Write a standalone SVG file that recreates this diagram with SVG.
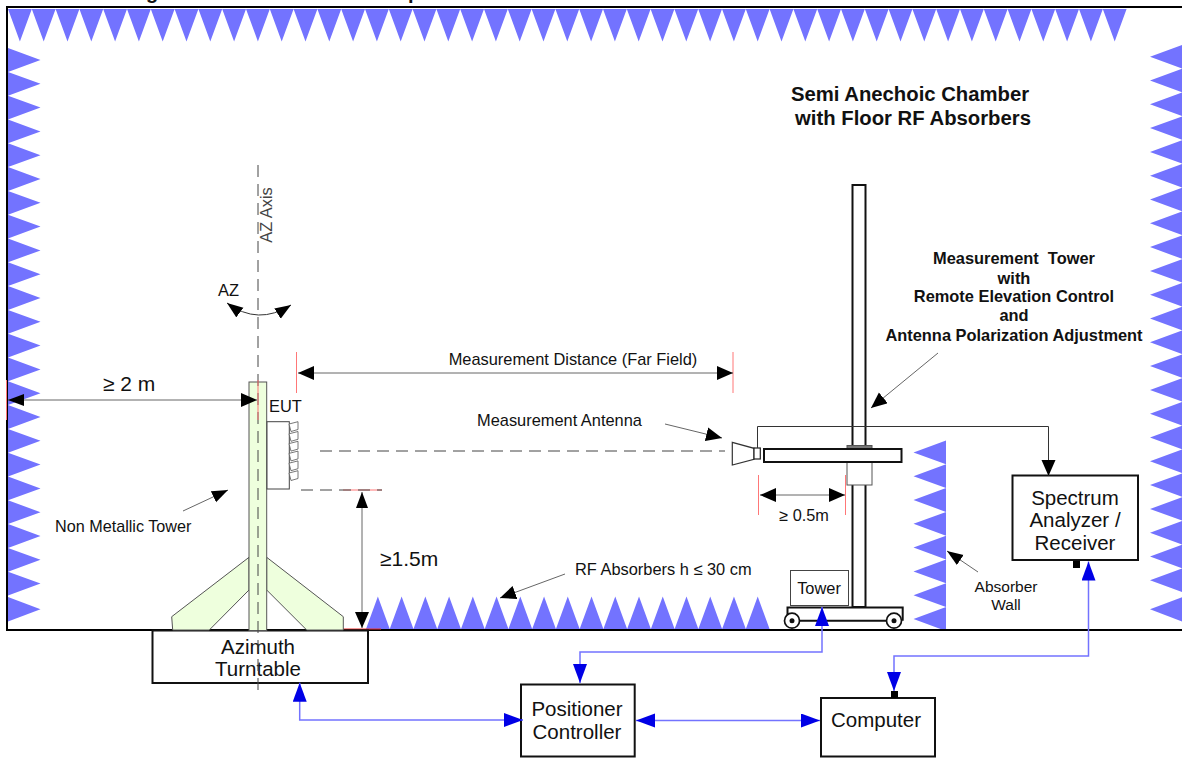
<svg xmlns="http://www.w3.org/2000/svg" width="1182" height="765" viewBox="0 0 1182 765">
<style>
text{font-family:"Liberation Sans",Arial,sans-serif;fill:#111}
.abs{fill:#7373ff;stroke:none}
.box{fill:#fff;stroke:#111;stroke-width:2}
.tw{fill:#eeffdd;stroke:#555;stroke-width:1}
.red{fill:none;stroke:#f77;stroke-width:1}
.dash{fill:none;stroke:#444;stroke-width:1;stroke-dasharray:12 7}
.ln{fill:none;stroke:#666;stroke-width:1}
.bl{fill:none;stroke:#7373ff;stroke-width:1.5}
.lbl{font-size:16.4px}
.big{font-size:20.5px;text-anchor:middle}
.bold{font-weight:bold;text-anchor:middle}
.t1{font-size:20.3px}
.t2{font-size:16.4px}
</style>
<defs>
<marker id="k" markerUnits="userSpaceOnUse" markerWidth="17" markerHeight="15" refX="16" refY="7" orient="auto-start-reverse"><path d="M0 0L16 7L0 14z" fill="#000"/></marker>
<marker id="s" markerUnits="userSpaceOnUse" markerWidth="17" markerHeight="13" refX="16" refY="6" orient="auto-start-reverse"><path d="M0 0L16 6L0 12z" fill="#000"/></marker>
<marker id="b" markerUnits="userSpaceOnUse" markerWidth="20" markerHeight="15" refX="19" refY="7" orient="auto-start-reverse"><path d="M0 0L19 7L0 14z" fill="#0000e6"/></marker>
<polygon id="tile" points="289,424 298,421.7 298,429.5 291,431.5" fill="#fff" stroke="#555" stroke-width="0.8"/>
<path id="d5" class="abs" d="M0 0l11.9 32.5 11.9-32.5 11.9 32.5 11.9-32.5 11.9 32.5 11.9-32.5 11.9 32.5 11.9-32.5 11.9 32.5 11.9-32.5z"/>
<path id="u5" class="abs" d="M0 0l11.87-32.5 11.87 32.5 11.87-32.5 11.87 32.5 11.87-32.5 11.87 32.5 11.87-32.5 11.87 32.5 11.87-32.5 11.87 32.5z"/>
<path id="r5" class="abs" d="M0 0l32.5 11.9-32.5 11.9 32.5 11.9-32.5 11.9 32.5 11.9-32.5 11.9 32.5 11.9-32.5 11.9 32.5 11.9-32.5 11.9z"/>
<path id="l5" class="abs" d="M0 0l-32.5 11.9 32.5 11.9-32.5 11.9 32.5 11.9-32.5 11.9 32.5 11.9-32.5 11.9 32.5 11.9-32.5 11.9 32.5 11.9z"/>
</defs>

<g id="clipped-title" font-weight="bold" font-size="20"><text x="146" y="-1">g</text><text x="408" y="-1">p</text></g>

<g id="chamber">
<use href="#d5" x="8" y="9"/><use href="#d5" x="127" y="9"/><use href="#d5" x="246" y="9"/><use href="#d5" x="365" y="9"/><use href="#d5" x="484" y="9"/><use href="#d5" x="603" y="9"/><use href="#d5" x="722" y="9"/><use href="#d5" x="841" y="9"/><use href="#d5" x="960" y="9"/>
<path class="abs" d="M1079 9l11.9 32.5 11.9-32.5 11.9 32.5 11.9-32.5z"/>

<use href="#r5" x="8" y="48.1"/><use href="#r5" x="8" y="167.1"/><use href="#r5" x="8" y="286.1"/><use href="#r5" x="8" y="405.1"/>
<path class="abs" d="M8 524.1l32.5 11.9-32.5 11.9 32.5 11.9-32.5 11.9 32.5 11.9-32.5 11.9z"/>
<path class="abs" d="M8 597l32.5 12.3L8 621.6z"/>

<use href="#l5" x="1182.5" y="44.8"/><use href="#l5" x="1182.5" y="163.8"/><use href="#l5" x="1182.5" y="282.8"/><use href="#l5" x="1182.5" y="401.8"/>
<path class="abs" d="M1182.5 520.8l-32.5 11.9 32.5 11.9-32.5 11.9 32.5 11.9-32.5 11.9 32.5 11.9z"/>
<path class="abs" d="M1182.5 597l-32.5 12.3 32.5 12.3z"/>

<use href="#u5" x="366" y="629"/><use href="#u5" x="484.7" y="629"/><use href="#u5" x="603.4" y="629"/>
<path class="abs" d="M722.1 629l11.87-32.5 11.87 32.5 11.87-32.5 11.87 32.5z"/>

<use id="absorber-wall-shape" href="#l5" x="946" y="440.5"/>
<path class="abs" d="M946 559.5l-32.5 11.9 32.5 11.9-32.5 11.9 32.5 11.9-32.5 11.9 32.5 11.9z"/>

<path d="M1182 7H7V630H1182" fill="none" stroke="#000" stroke-width="2"/>
<path d="M343 629H381" stroke="#e33" stroke-width="1"/>
<path d="M6.5 380V420" class="red" stroke-width="1.5"/>
</g>

<g id="azimuth-turntable">
<rect class="box" x="152.5" y="630.5" width="215.5" height="52.5"/>
<text class="big" x="258" y="654">Azimuth</text>
<text class="big" x="258" y="676">Turntable</text>
</g>

<g id="non-metallic-tower">
<path class="tw" d="M171.7 616.7L249 557.3V590L209.3 630H172.7z"/>
<path class="tw" d="M266.7 557.3L343.3 616.7V630H306.7L266.7 590z"/>
<rect class="tw" x="249" y="382" width="17.7" height="248.5"/>
</g>

<g id="eut">
<rect x="267" y="421.7" width="22.3" height="67.3" fill="#fff" stroke="#444" stroke-width="1"/>
<use href="#tile"/><use href="#tile" y="9.8"/><use href="#tile" y="19.6"/><use href="#tile" y="29.4"/><use href="#tile" y="39.2"/><use href="#tile" y="49"/>
<text class="lbl" x="269" y="412">EUT</text>
</g>

<g id="measurement-tower">
<rect x="852.5" y="185" width="13" height="422" fill="#fff" stroke="#111" stroke-width="2"/>
<rect x="847" y="445.5" width="25" height="4" fill="#777" stroke="#555" stroke-width="1"/>
<rect x="847" y="462" width="25" height="23" fill="#fff" stroke="#555" stroke-width="1"/>
<rect x="764" y="449" width="137.5" height="13" fill="#fff" stroke="#111" stroke-width="2"/>
</g>

<g id="tower-cart">
<rect x="790.5" y="570.5" width="58" height="35" fill="#fff" stroke="#444" stroke-width="1"/>
<text class="lbl" x="819" y="594" text-anchor="middle">Tower</text>
<path d="M787.5 620.7V607.5H902.7V620.7M792 620.7H894" fill="none" stroke="#111" stroke-width="2"/>
<circle cx="792" cy="620.7" r="7.5" fill="#fff" stroke="#111" stroke-width="1.7"/>
<circle cx="792" cy="620.7" r="2.5" fill="#111"/>
<circle cx="894" cy="620.7" r="7.5" fill="#fff" stroke="#111" stroke-width="1.7"/>
<circle cx="894" cy="620.7" r="2.5" fill="#111"/>
</g>

<g id="measurement-antenna">
<path d="M732.3 442.3L754 448.3V459.3L732.3 465z" fill="#fff" stroke="#333" stroke-width="1.2"/>
<rect x="754" y="448" width="6.3" height="11" fill="#fff" stroke="#222" stroke-width="1.2"/>
</g>

<g id="spectrum-analyzer">
<rect class="box" x="1012.5" y="475.5" width="125.5" height="84.5"/>
<rect x="1073" y="561" width="7" height="7" fill="#000"/>
<text class="big" x="1075" y="505">Spectrum</text>
<text class="big" x="1075" y="527">Analyzer /</text>
<text class="big" x="1075" y="550">Receiver</text>
</g>

<g id="positioner-controller">
<rect class="box" x="521" y="684.5" width="113.7" height="72"/>
<text class="big" x="577" y="716">Positioner</text>
<text class="big" x="577" y="739">Controller</text>
</g>

<g id="computer">
<rect class="box" x="821" y="698" width="114" height="58.5"/>
<rect x="891" y="691" width="7" height="7" fill="#000"/>
<text class="big" x="876" y="727">Computer</text>
</g>

<g id="connectors">
<path class="dash" d="M258 165V692"/>
<path class="red" d="M258 380V420M296.5 352V393M733 352V393M758.5 475V515M845.5 475V515M343 490H382"/>
<path class="dash" d="M320 451H725M301 490H382"/>
<path class="ln" d="M8 400H257" marker-start="url(#s)" marker-end="url(#k)"/>
<path class="ln" d="M298 373H733" marker-start="url(#k)" marker-end="url(#k)"/>
<path class="ln" d="M760 495H845" marker-start="url(#k)" marker-end="url(#k)"/>
<path class="ln" d="M362 492V628" marker-start="url(#s)" marker-end="url(#k)"/>
<path class="ln" d="M183 511L228 490" marker-end="url(#s)"/>
<path class="ln" d="M565 574L500 598" marker-end="url(#k)"/>
<path class="ln" d="M665 424L722 438" marker-end="url(#k)"/>
<path class="ln" d="M938 353L871 408" marker-end="url(#k)"/>
<path class="ln" d="M978 572L947 551" marker-end="url(#s)"/>
<path d="M227 303Q258 326 291 305" fill="none" stroke="#333" stroke-width="1" marker-start="url(#s)" marker-end="url(#s)"/>
<path d="M757.5 448V426.5H1048.5V476" fill="none" stroke="#333" stroke-width="1" marker-end="url(#k)"/>
<path class="bl" d="M822 607V652H580V683" marker-start="url(#b)" marker-end="url(#b)"/>
<path class="bl" d="M636 720.5H820" marker-start="url(#b)" marker-end="url(#b)"/>
<path class="bl" d="M299.7 682.7V720H523" marker-start="url(#b)" marker-end="url(#b)"/>
<path class="bl" d="M1088.5 561.5V656H894V691" marker-start="url(#b)" marker-end="url(#b)"/>
</g>

<g id="labels">
<text class="bold t1" x="910" y="101">Semi Anechoic Chamber</text>
<text class="bold t1" x="913" y="125">with Floor RF Absorbers</text>
<text class="bold t2" x="1014" y="264" xml:space="preserve">Measurement  Tower</text>
<text class="bold t2" x="1014" y="284">with</text>
<text class="bold t2" x="1014" y="302">Remote Elevation Control</text>
<text class="bold t2" x="1014" y="321">and</text>
<text class="bold t2" x="1014" y="341">Antenna Polarization Adjustment</text>
<text class="lbl" x="573" y="365" text-anchor="middle">Measurement Distance (Far Field)</text>
<text class="lbl" x="477" y="426">Measurement Antenna</text>
<text x="103" y="391" font-size="21">≥ 2 m</text>
<text x="380" y="566" font-size="21">≥1.5m</text>
<text x="55" y="532" font-size="16.2">Non Metallic Tower</text>
<text class="lbl" x="218" y="296">AZ</text>
<text class="lbl" transform="translate(272 215) rotate(-90)" text-anchor="middle" style="fill:#444">AZ Axis</text>
<text class="lbl" x="575" y="575">RF Absorbers h ≤ 30 cm</text>
<text x="804" y="521" font-size="16.3" text-anchor="middle">≥ 0.5m</text>
<text x="1006" y="592" font-size="15.5" text-anchor="middle">Absorber</text>
<text x="1006" y="610" font-size="15.5" text-anchor="middle">Wall</text>
</g>
</svg>
